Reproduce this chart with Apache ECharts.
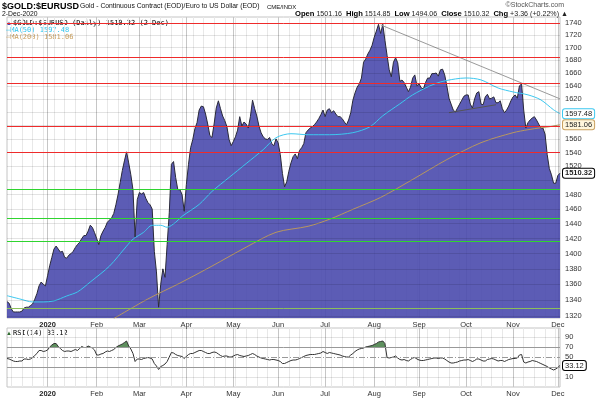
<!DOCTYPE html>
<html>
<head>
<meta charset="utf-8">
<script src="https://cdn.jsdelivr.net/npm/echarts@6/dist/echarts.min.js"></script>
<style>
  html, body { margin: 0; padding: 0; background: #fff; }
  #chart { width: 596px; height: 399px; }
</style>
</head>
<body>
<div id="chart"></div>
<script>
// weekday sessions shown on the chart
const firstDay = '2019-12-05'
const lastDay = '2020-12-02'
const monthLabels = ['2020', 'Feb', 'Mar', 'Apr', 'May', 'Jun', 'Jul', 'Aug', 'Sep', 'Oct', 'Nov', 'Dec']

// daily close
const closes = [
  1338, 1336, 1329, 1325, 1325, 1325, 1325, 1326, 1330, 1331, 1331, 1333, 1335, 1341, 1348, 1358, 1363, 1360, 1358,
  1371, 1384, 1395, 1406, 1410, 1406, 1402, 1403, 1395, 1394, 1398, 1400, 1403, 1408, 1412, 1415, 1420, 1424, 1424, 1430, 1438, 1435, 1428,
  1420, 1412, 1424, 1430, 1435, 1442, 1445, 1448, 1454, 1466, 1480, 1497, 1514, 1528, 1541, 1525, 1508, 1487, 1422, 1473,
  1483, 1481, 1483, 1475, 1469, 1466, 1460, 1403, 1376, 1331, 1360, 1380, 1369, 1412, 1455, 1523, 1527, 1504, 1487, 1487, 1480, 1457,
  1494, 1523, 1547, 1559, 1575, 1584, 1603, 1609, 1608, 1597, 1582, 1565, 1562, 1582, 1606, 1617, 1605, 1594, 1587, 1578, 1559, 1550,
  1556, 1563, 1573, 1593, 1579, 1585, 1582, 1576, 1593, 1618, 1605, 1594, 1579, 1569, 1563, 1560, 1559, 1562, 1553, 1550, 1560,
  1554, 1537, 1510, 1491, 1498, 1513, 1525, 1534, 1538, 1531, 1543, 1547, 1553, 1569, 1573, 1576, 1578, 1581, 1585, 1590, 1596, 1603,
  1593, 1603, 1605, 1599, 1602, 1597, 1593, 1593, 1590, 1585, 1581, 1588, 1599, 1618, 1629, 1638, 1643, 1652, 1677, 1682, 1690, 1696, 1704,
  1717, 1727, 1738, 1723, 1738, 1712, 1688, 1665, 1654, 1677, 1684, 1676, 1647, 1649, 1645, 1638, 1631, 1638, 1652, 1657, 1640,
  1643, 1637, 1635, 1645, 1652, 1652, 1659, 1659, 1660, 1655, 1665, 1666, 1657, 1640, 1621, 1612, 1603, 1600, 1606, 1612, 1618, 1624,
  1626, 1626, 1612, 1606, 1620, 1629, 1631, 1612, 1611, 1623, 1627, 1620, 1621, 1623, 1614, 1614, 1617, 1605, 1599, 1603, 1609, 1617,
  1623, 1626, 1621, 1640, 1643, 1603, 1576, 1584, 1588, 1591, 1593, 1588, 1582, 1576, 1576, 1567, 1537, 1517, 1508, 1496, 1496, 1507, 1510.32
]

// moving averages as [session index, value]
const ma50 = [
  [0, 1345.5], [6, 1341.4], [12, 1337.6], [17, 1337.6], [22, 1338.9], [28, 1345.2], [33, 1350.3], [39, 1363],
  [48, 1383.6], [56, 1409.8], [59, 1419.1], [64, 1428.4], [68, 1437.9], [72, 1437.9], [75, 1435.2], [79, 1442],
  [82, 1450.1], [90, 1466.5], [96, 1484.5], [104, 1504.2], [112, 1524], [120, 1544.2], [126, 1561.7], [133, 1567.6],
  [141, 1566.1], [151, 1566.1], [162, 1569.1], [170, 1577.9], [176, 1594.3], [184, 1612.4], [190, 1626.1], [198, 1639.8],
  [203, 1646], [210, 1650.7], [215, 1652.2], [222, 1649.2], [230, 1636.7], [237, 1630.6], [244, 1626.1], [250, 1618.5],
  [256, 1603.3], [259, 1597.48]
]
const ma200 = [
  [50, 1316.8], [66, 1341.4], [81, 1361.6], [96, 1383.6], [112, 1408.5], [126, 1428.4], [141, 1436.5], [151, 1446],
  [162, 1459.7], [175, 1476.2], [190, 1501.4], [206, 1529.8], [222, 1554.4], [237, 1569.1], [244, 1573.5], [250, 1576.4],
  [254, 1577.9], [259, 1581.06]
]

// RSI(14)
const rsi = [
  47, 46, 44, 42, 41, 41, 42, 42, 46, 46, 45, 46, 49, 53, 57, 63, 63, 61, 62,
  64, 70, 74, 77, 77, 71, 67, 63, 61, 62, 62, 61, 63, 65, 63, 67, 71, 69, 69, 72, 70, 68, 64,
  54, 54, 56, 57, 60, 62, 61, 63, 65, 69, 72, 74, 76, 79, 82, 72, 66, 57, 41, 46,
  46, 45, 47, 48, 49, 48, 46, 37, 32, 25, 31, 33, 36, 41, 50, 59, 58, 55, 53, 52, 51, 47,
  51, 55, 57, 57, 59, 61, 63, 63, 61, 59, 57, 57, 59, 60, 59, 56, 53, 51, 52, 52, 50, 50,
  52, 54, 55, 53, 52, 51, 52, 53, 55, 57, 55, 52, 50, 48, 47, 46, 45, 44, 45, 45, 44,
  43, 41, 37, 37, 39, 41, 43, 44, 44, 45, 47, 49, 51, 53, 54, 55, 55, 55, 56, 57, 58, 61,
  59, 57, 59, 58, 57, 56, 55, 54, 52, 51, 50, 50, 54, 57, 61, 64, 66, 67, 68, 70, 71, 72, 73,
  75, 77, 80, 81, 82, 77, 49, 48, 49, 50, 52, 48, 45, 44, 45, 43, 42, 45, 48, 49, 46,
  44, 43, 43, 44, 45, 46, 47, 48, 48, 47, 48, 48, 46, 43, 40, 38, 38, 39, 40, 42, 43, 44,
  44, 45, 43, 41, 43, 46, 46, 44, 42, 42, 45, 46, 47, 46, 44, 42, 43, 43, 41, 43, 45, 46,
  47, 47, 48, 54, 55, 40, 38, 40, 41, 43, 42, 41, 39, 37, 35, 33, 31, 28, 26, 24, 26, 29, 33.12
]

// drawn levels
const redLevels = [1739, 1684.7, 1644, 1578, 1540]
const greenLevels = [1487, 1448, 1417]
const oliveLevels = [1330]
const trendLine = [[175, 1737], [259, 1620]]
const supportLine = [[207, 1599], [229, 1611]]

const priceTicks = [1320, 1340, 1360, 1380, 1400, 1420, 1440, 1460, 1480, 1500, 1520, 1540,
  1560, 1580, 1600, 1620, 1640, 1660, 1680, 1700, 1720, 1740]
const hiddenPriceLabels = [1500, 1580, 1600]
const rsiTicks = [10, 30, 50, 70, 90]

function tradingDays(from, to) {
  const out = []
  const d = new Date(from + 'T00:00:00Z')
  const end = new Date(to + 'T00:00:00Z')
  while (d <= end) {
    const wd = d.getUTCDay()
    if (wd !== 0 && wd !== 6) out.push(d.toISOString().slice(0, 10))
    d.setUTCDate(d.getUTCDate() + 1)
  }
  return out
}

const days = tradingDays(firstDay, lastDay)
const monthStart = days.map((d, i) => i > 0 && d.slice(5, 7) !== days[i - 1].slice(5, 7))
const weekStart = days.map(d => new Date(d + 'T00:00:00Z').getUTCDay() === 1)

const FONT = '"Liberation Sans", Arial, sans-serif'
const MONO = '"DejaVu Sans Mono", monospace'
const GRID_LINE = 'rgba(0, 0, 0, 0.11)'

function dayAxis(gridIndex, marks, color, withLabels) {
  return {
    type: 'category',
    gridIndex: gridIndex,
    data: days,
    boundaryGap: false,
    axisLine: { show: false },
    axisTick: { show: false },
    axisLabel: withLabels ? {
      show: true,
      interval: (i) => monthStart[i],
      formatter: (v) => {
        const m = parseInt(v.slice(5, 7), 10)
        return m === 1 ? '{b|' + monthLabels[0] + '}' : monthLabels[m - 1]
      },
      fontSize: 7.5,
      fontFamily: FONT,
      color: '#333',
      margin: 3,
      rich: { b: { fontWeight: 'bold', fontSize: 7.5, fontFamily: FONT, color: '#222' } }
    } : { show: false },
    splitLine: {
      show: true,
      interval: (i) => marks[i],
      lineStyle: { color: color, width: 1 }
    }
  }
}

function tag(text, border, bg, bold) {
  return {
    show: true,
    formatter: text,
    distance: 3,
    color: '#222',
    fontSize: 7.5,
    fontFamily: FONT,
    fontWeight: bold ? 'bold' : 'normal',
    backgroundColor: bg,
    borderColor: border,
    borderWidth: 1,
    borderRadius: 2,
    padding: [1, 2, 0, 2]
  }
}

const chart = echarts.init(document.getElementById('chart'), null, { renderer: 'canvas' })

chart.setOption({
  animation: false,
  backgroundColor: '#fff',
  grid: [
    { left: 7, top: 17, width: 553, height: 301, show: true, borderColor: '#c4c4c4', borderWidth: 1 },
    { left: 7, top: 328, width: 553, height: 59, show: true, borderColor: '#c4c4c4', borderWidth: 1 }
  ],
  xAxis: [
    dayAxis(0, weekStart, '#e8e8e8', true),
    dayAxis(0, monthStart, '#c6c6c6', false),
    dayAxis(1, weekStart, '#e8e8e8', true),
    dayAxis(1, monthStart, '#c6c6c6', false)
  ],
  yAxis: [
    {
      type: 'log', logBase: 10, gridIndex: 0, min: 1317.5, max: 1750,
      axisLine: { show: false }, axisTick: { show: false }, axisLabel: { show: false }, splitLine: { show: false }
    },
    {
      type: 'value', gridIndex: 1, min: -10, max: 108,
      axisLine: { show: false }, axisTick: { show: false }, axisLabel: { show: false }, splitLine: { show: false }
    }
  ],
  visualMap: [{
    show: false,
    type: 'piecewise',
    seriesIndex: 6,
    dimension: 1,
    pieces: [
      { min: -20, max: 70, color: 'rgba(94, 143, 94, 0)' },
      { min: 70, max: 120, color: '#5e8f5e' }
    ]
  }],
  graphic: [
    { type: 'text', left: 2, top: 2, style: { text: '$GOLD:$EURUSD', fontSize: 9, fontWeight: 'bold', fontFamily: FONT, fill: '#000' } },
    { type: 'text', left: 80, top: 3, style: { text: 'Gold - Continuous Contract (EOD)/Euro to US Dollar (EOD)', fontSize: 6.8, fontFamily: FONT, fill: '#111' } },
    { type: 'text', left: 267, top: 4, style: { text: 'CME/INDX', fontSize: 6, fontFamily: FONT, fill: '#111' } },
    { type: 'text', left: 2, top: 11, style: { text: '2-Dec-2020', fontSize: 6.8, fontFamily: FONT, fill: '#111' } },
    { type: 'text', right: 32, top: 2, style: { text: '\u00a9StockCharts.com', fontSize: 7, fontFamily: FONT, fill: '#555' } },
    {
      type: 'text', right: 28, top: 10,
      style: {
        text: '{b|Open} 1501.16  {b|High} 1514.85  {b|Low} 1494.06  {b|Close} 1510.32  {b|Chg} +3.36 (+0.22%) \u25b2',
        fontSize: 7.1, fontFamily: FONT, fill: '#222',
        rich: { b: { fontWeight: 'bold', fontSize: 7.6, fontFamily: FONT, fill: '#000' } }
      }
    },
    { type: 'text', left: 6, top: 20, style: { text: '\u25b2', fontSize: 6, fontFamily: FONT, fill: '#4a4aad' } },
    { type: 'text', left: 13, top: 20, style: { text: '$GOLD:$EURUSD (Daily) 1510.32 (2 Dec)', fontSize: 7, fontFamily: MONO, fill: '#000' } },
    { type: 'text', left: 6, top: 27, style: { text: '\u2014MA(50) 1597.48', fontSize: 7, fontFamily: MONO, fill: '#2ec4ee' } },
    { type: 'text', left: 6, top: 34, style: { text: '\u2014MA(200) 1581.06', fontSize: 7, fontFamily: MONO, fill: '#c9a060' } },
    { type: 'text', left: 6, top: 330, style: { text: '\u25b2', fontSize: 6, fontFamily: FONT, fill: '#2f6a2f' } },
    { type: 'text', left: 13, top: 330, style: { text: 'RSI(14) 33.12', fontSize: 7, fontFamily: MONO, fill: '#000' } }
  ],
  series: [
    {
      name: 'grid',
      type: 'line',
      xAxisIndex: 0,
      yAxisIndex: 0,
      data: [],
      markLine: {
        silent: true,
        symbol: 'none',
        lineStyle: { color: GRID_LINE, type: 'solid', width: 1 },
        label: { position: 'end', distance: 5, color: '#333', fontSize: 7.5, fontFamily: FONT },
        data: priceTicks.map(v => ({
          yAxis: v,
          label: { show: !hiddenPriceLabels.includes(v), formatter: String(v) }
        }))
      }
    },
    {
      name: 'Close',
      type: 'line',
      xAxisIndex: 0,
      yAxisIndex: 0,
      data: closes,
      symbol: 'none',
      z: 2,
      lineStyle: { color: '#2a2a3a', width: 1 },
      areaStyle: { color: '#4a4aad', opacity: 0.9, origin: 'start' },
      endLabel: tag('1510.32', '#000', '#fff', true),
      markLine: {
        silent: true,
        symbol: 'none',
        label: { show: false },
        data: [
          ...redLevels.map(v => ({ yAxis: v, lineStyle: { color: '#ee2b2b', width: 1, type: 'solid' } })),
          ...greenLevels.map(v => ({ yAxis: v, lineStyle: { color: '#2fd42f', width: 1, type: 'solid' } })),
          ...oliveLevels.map(v => ({ yAxis: v, lineStyle: { color: '#8cbf5a', width: 1, type: 'solid' } }))
        ]
      }
    },
    {
      name: 'MA(50)',
      type: 'line',
      xAxisIndex: 0,
      yAxisIndex: 0,
      data: ma50,
      smooth: 0.3,
      symbol: 'none',
      z: 3,
      lineStyle: { color: '#3cc8f0', width: 1 },
      endLabel: tag('1597.48', '#3cc8f0', '#fff', false)
    },
    {
      name: 'MA(200)',
      type: 'line',
      xAxisIndex: 0,
      yAxisIndex: 0,
      data: ma200,
      smooth: 0.3,
      symbol: 'none',
      z: 3,
      lineStyle: { color: '#b8975f', width: 1 },
      endLabel: tag('1581.06', '#c9a060', '#fff6dc', false)
    },
    {
      name: 'trend',
      type: 'line',
      xAxisIndex: 0,
      yAxisIndex: 0,
      data: trendLine,
      symbol: 'none',
      z: 4,
      lineStyle: { color: '#9a9a9a', width: 1 }
    },
    {
      name: 'support',
      type: 'line',
      xAxisIndex: 0,
      yAxisIndex: 0,
      data: supportLine,
      symbol: 'none',
      z: 4,
      lineStyle: { color: '#555', width: 1 }
    },
    {
      name: 'RSI fill',
      type: 'line',
      xAxisIndex: 2,
      yAxisIndex: 1,
      data: rsi,
      symbol: 'none',
      z: 2,
      lineStyle: { width: 0 },
      areaStyle: { origin: 70, opacity: 1 }
    },
    {
      name: 'RSI(14)',
      type: 'line',
      xAxisIndex: 2,
      yAxisIndex: 1,
      data: rsi,
      symbol: 'none',
      z: 3,
      lineStyle: { color: '#333', width: 1 },
      endLabel: tag('33.12', '#000', '#fff', false),
      markLine: {
        silent: true,
        symbol: 'none',
        label: { position: 'end', distance: 5, color: '#333', fontSize: 7.5, fontFamily: FONT },
        data: rsiTicks.map(v => ({
          yAxis: v,
          label: { show: v !== 30, formatter: String(v) },
          lineStyle: v === 50
            ? { color: '#999', width: 1, type: [6, 2, 1, 2] }
            : (v === 70 || v === 30)
              ? { color: '#999', width: 1, type: 'solid' }
              : { color: GRID_LINE, width: 1, type: 'solid' }
        }))
      }
    }
  ]
})
</script>
</body>
</html>
